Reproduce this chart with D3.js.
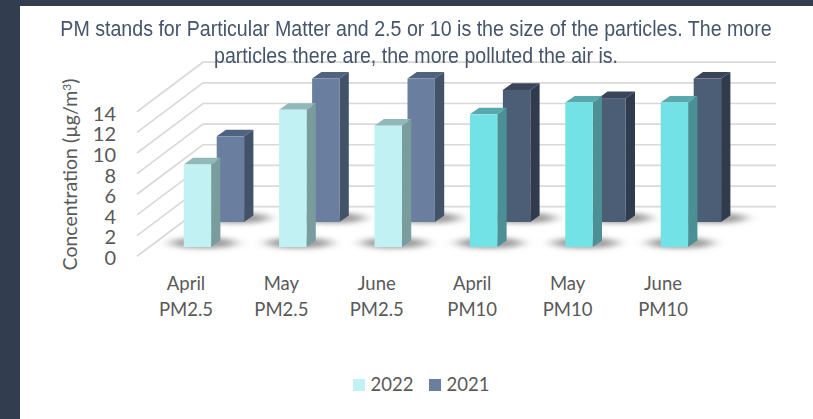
<!DOCTYPE html>
<html><head><meta charset="utf-8">
<script src="https://cdn.jsdelivr.net/npm/d3@7/dist/d3.min.js"></script>
<style>html,body{margin:0;padding:0;background:#fff}svg{display:block}</style>
</head><body><svg id="c" width="813" height="419"></svg>
<script>
const months = ["April","May","June","April","May","June"];
const pollutants = ["PM2.5","PM2.5","PM2.5","PM10","PM10","PM10"];
const values2022 = [8,13.3,11.75,12.85,14,14];
const values2021 = [8.3,13.9,13.9,12.8,12,13.9];
const yTicks = [0,2,4,6,8,10,12,14];
const titleLines = ["PM stands for Particular Matter and 2.5 or 10 is the size of the particles. The more","particles there are, the more polluted the air is."];
const seriesNames = ["2022","2021"];
const palette2022 = {pm25:["#c1f1f3","#7b9c9c","#92b8b9"],pm10:["#73e2e7","#4a9095","#58a9ad"]};
const palette2021 = {pm25:["#6a7f9f","#425268","#4f6280"],pm10:["#4c5d76","#303b4d","#394659"]};

const svg = d3.select("#c");
const defs = svg.append("defs");
const blur = defs.append("filter").attr("id","blur").attr("filterUnits","userSpaceOnUse")
  .attr("x",0).attr("y",150).attr("width",813).attr("height",130);
blur.append("feGaussianBlur").attr("stdDeviation","7 2.6");
const soft = defs.append("filter").attr("id","soft").attr("filterUnits","userSpaceOnUse")
  .attr("x",0).attr("y",0).attr("width",813).attr("height",100);
soft.append("feGaussianBlur").attr("stdDeviation","0.35");

svg.append("rect").attr("width",813).attr("height",419).attr("fill","#323e50");
svg.append("rect").attr("x",20).attr("y",6).attr("width",793).attr("height",413).attr("fill","#fff");

const wallY = d3.scaleLinear().domain([0,14]).range([206.7,62.2]);
const frontY = d3.scaleLinear().domain([0,14]).range([258,114]);
const xc = d3.scalePoint().domain(d3.range(6)).range([186,663]);
const wallLeft=203, wallRight=776, floorLeft=137, floorDrop=49.5;

// gridlines
const grid = svg.append("g").attr("fill","none").attr("stroke","#d9d9d9").attr("stroke-width",1.7);
grid.selectAll("path").data(yTicks).join("path")
  .attr("d",v=>`M${floorLeft},${wallY(v)+floorDrop}L${wallLeft},${wallY(v)}L${wallRight},${wallY(v)}`);

// series layers: 2021 stands further back than 2022
const layers = [
 {vals:values2021,pal:palette2021,dx:30.7,base:15.3},
 {vals:values2022,pal:palette2022,dx:-2.3,base:40.3}
];
const bw=27.4, dpx=9.3, dpy=6.6;

const shadows = svg.append("g").attr("filter","url(#blur)");
layers.forEach(l=>{
  shadows.selectAll(null).data(l.vals).join("ellipse")
    .attr("cx",(d,i)=>xc(i)+l.dx+bw/2+6)
    .attr("cy",wallY(0)+l.base-4)
    .attr("rx",33).attr("ry",5.5)
    .attr("fill","#777").attr("opacity",.72);
});

layers.forEach(l=>{
  const g = svg.append("g").selectAll("g").data(l.vals).join("g");
  const colors = i=> i<3?l.pal.pm25:l.pal.pm10;
  const X = i=>xc(i)+l.dx, T=d=>wallY(d)+l.base, B=wallY(0)+l.base;
  g.append("path").attr("fill",(d,i)=>colors(i)[2])
    .attr("d",(d,i)=>`M${X(i)},${T(d)}l${dpx},${-dpy}h${bw}l${-dpx},${dpy}Z`);
  g.append("path").attr("fill",(d,i)=>colors(i)[1])
    .attr("d",(d,i)=>`M${X(i)+bw},${T(d)}l${dpx},${-dpy}V${B-dpy}l${-dpx},${dpy}Z`);
  g.append("rect").attr("fill",(d,i)=>colors(i)[0])
    .attr("x",(d,i)=>X(i)).attr("y",d=>T(d)).attr("width",bw).attr("height",d=>B-T(d));
});

const font = "Lato, 'Open Sans', sans-serif";
// y axis
const ax = svg.append("g").attr("transform","translate(116,0)")
  .call(d3.axisLeft(frontY).tickValues(yTicks).tickSize(0).tickPadding(0));
ax.select(".domain").remove();
ax.selectAll("text").attr("font-family",font).attr("font-size",20).attr("fill","#595959");

svg.append("text").attr("transform","translate(77,174.5) rotate(-90)").attr("text-anchor","middle")
  .attr("font-family",font).attr("font-size",19.5).attr("fill","#595959")
  .html('Concentration (µg/m<tspan dy="-6.5" font-size="12">3</tspan><tspan dy="6.5">)</tspan>');

// x labels
const xl = svg.append("g").attr("text-anchor","middle").attr("font-family",font).attr("font-size",18.5).attr("fill","#595959");
xl.selectAll(".m").data(months).join("text").attr("class","m").attr("x",(d,i)=>xc(i)).attr("y",290).text(d=>d);
xl.selectAll(".p").data(pollutants).join("text").attr("class","p").attr("x",(d,i)=>xc(i)).attr("y",316).text(d=>d);

// legend
const lg = svg.append("g");
[palette2022.pm25[0],palette2021.pm25[0]].forEach((c,i)=>{
  const x=[353,429][i];
  lg.append("rect").attr("x",x).attr("y",379).attr("width",12).attr("height",12).attr("fill",c);
  lg.append("text").attr("x",x+17.5).attr("y",391).attr("font-family",font).attr("font-size",18.5).attr("fill","#595959").text(seriesNames[i]);
});

// title: horizontally condensed as in the reference
const titleWidths = [712,404];
svg.append("g").attr("filter","url(#soft)").selectAll("text").data(titleLines).join("text")
  .attr("text-anchor","middle")
  .attr("font-family","'Liberation Sans', Arial, sans-serif").attr("font-size",22).attr("fill","#44546a")
  .text(d=>d)
  .attr("transform",function(d,i){
    const k = titleWidths[i]/this.getComputedTextLength();
    return `translate(416,${[36,63][i]}) scale(${k},1)`;
  });
</script></body></html>
